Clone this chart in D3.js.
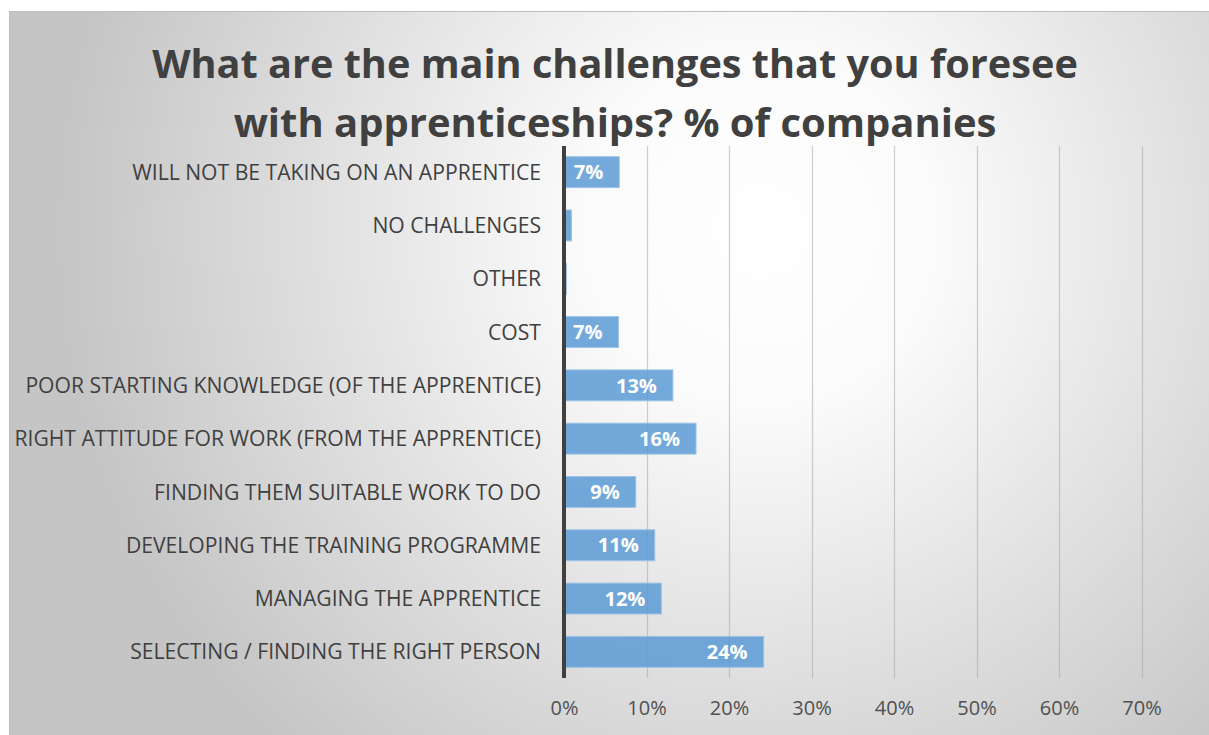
<!DOCTYPE html>
<html>
<head>
<meta charset="utf-8">
<script src="https://cdn.jsdelivr.net/npm/d3@7"></script>
<style>
  html, body { margin: 0; padding: 0; background: #ffffff; }
  svg { display: block; }
</style>
</head>
<body>
<svg id="chart" width="1209" height="735"></svg>
<script>
// Survey answers, listed top to bottom as they appear on the chart
const categories = [
  "WILL NOT BE TAKING ON AN APPRENTICE",
  "NO CHALLENGES",
  "OTHER",
  "COST",
  "POOR STARTING KNOWLEDGE (OF THE APPRENTICE)",
  "RIGHT ATTITUDE FOR WORK (FROM THE APPRENTICE)",
  "FINDING THEM SUITABLE WORK TO DO",
  "DEVELOPING THE TRAINING PROGRAMME",
  "MANAGING THE APPRENTICE",
  "SELECTING / FINDING THE RIGHT PERSON"
];
// Share of companies (%)
const values = [6.7, 0.9, 0.3, 6.6, 13.2, 16.0, 8.7, 11.0, 11.8, 24.2];
// Only these bars carry a data label
const showLabel = [true, false, false, true, true, true, true, true, true, true];
const xTicks = [0, 10, 20, 30, 40, 50, 60, 70];
const titleLines = [
  "What are the main challenges that you foresee",
  "with apprenticeships? % of companies"
];

const rows = categories.map((c, i) => ({ cat: c, value: values[i], label: showLabel[i] }));

const svg = d3.select("#chart");

// Chart area background: soft radial gradient
const defs = svg.append("defs");
const grad = defs.append("radialGradient")
  .attr("id", "bg")
  .attr("gradientUnits", "userSpaceOnUse")
  .attr("cx", 760).attr("cy", 230).attr("r", 700)
  .attr("fx", 760).attr("fy", 230);
grad.append("stop").attr("offset", "0%").attr("stop-color", "#ffffff");
grad.append("stop").attr("offset", "25%").attr("stop-color", "#fbfbfb");
grad.append("stop").attr("offset", "100%").attr("stop-color", "#c5c5c5");

svg.append("rect")
  .attr("x", 9.5).attr("y", 11.5)
  .attr("width", 1200).attr("height", 730)
  .attr("fill", "url(#bg)")
  .attr("stroke", "#bdbdbd").attr("stroke-width", 1);

const font = "'Open Sans', 'Noto Sans', sans-serif";

// Plot geometry
const x = d3.scaleLinear().domain([0, 70]).range([564, 1141.5]);
const y = d3.scaleBand().domain(categories).range([145.5, 678.5])
  .paddingInner(0.42).paddingOuter(0.21);

// Vertical gridlines
svg.append("g").selectAll("line").data(xTicks.filter(d => d > 0)).join("line")
  .attr("x1", d => Math.round(x(d)) + 0.5)
  .attr("x2", d => Math.round(x(d)) + 0.5)
  .attr("y1", 146).attr("y2", 678)
  .attr("stroke", "#a6a6a6").attr("stroke-opacity", 0.55).attr("stroke-width", 1.2);

// Bars
svg.append("g").selectAll("rect").data(rows).join("rect")
  .attr("x", x(0) + 1)
  .attr("y", d => y(d.cat))
  .attr("width", d => Math.max(0, x(d.value) - x(0) - 1))
  .attr("height", y.bandwidth())
  .attr("fill", "#5b9bd5").attr("fill-opacity", 0.85)
  .attr("stroke", "#9dc3e6").attr("stroke-width", 1);

// Data labels inside bar ends
svg.append("g").selectAll("text").data(rows.filter(d => d.label)).join("text")
  .attr("x", d => x(d.value) - 16)
  .attr("y", d => y(d.cat) + y.bandwidth() / 2)
  .attr("dy", "0.36em")
  .attr("text-anchor", "end")
  .attr("font-family", font).attr("font-weight", 700)
  .attr("font-size", 20).attr("fill", "#ffffff")
  .text(d => d3.format(".0f")(d.value) + "%");

// Category axis (vertical baseline at 0%)
svg.append("line")
  .attr("x1", x(0)).attr("x2", x(0))
  .attr("y1", 146).attr("y2", 678)
  .attr("stroke", "#404040").attr("stroke-width", 4);

const catLabels = svg.append("g").selectAll("text").data(categories).join("text")
  .attr("x", 541)
  .attr("y", d => y(d) + y.bandwidth() / 2)
  .attr("dy", "0.36em")
  .attr("text-anchor", "end")
  .attr("font-family", font).attr("font-size", 19)
  .attr("fill", "#404040")
  .text(d => d);

// Value axis tick labels
const xAxis = d3.axisBottom(x).tickValues(xTicks)
  .tickFormat(d => d + "%").tickSize(0).tickPadding(0);
const gx = svg.append("g").attr("transform", "translate(0,701)").call(xAxis);
gx.select(".domain").remove();
gx.selectAll("text")
  .attr("font-family", font).attr("font-size", 20)
  .attr("fill", "#505050").attr("dy", "0.71em");

// Title
const tl = svg.append("g").selectAll("text").data(titleLines).join("text")
  .attr("x", 615)
  .attr("y", (d, i) => 78 + i * 59)
  .attr("text-anchor", "middle")
  .attr("font-family", font).attr("font-weight", 700)
  .attr("font-size", 42).attr("fill", "#404040")
  .text(d => d);

// Size text so its width fills the available room
const fitWidth = (sel, target) => {
  const w = sel.node().getComputedTextLength();
  const fs = parseFloat(sel.attr("font-size"));
  sel.attr("font-size", fs * target / w);
};
fitWidth(tl.filter((d, i) => i === 0), 926);
fitWidth(tl.filter((d, i) => i === 1), 763);

const longest = catLabels.filter((d, i) => i === 5);
const base = parseFloat(longest.attr("font-size"));
const scale = 527 / longest.node().getComputedTextLength();
catLabels.attr("font-size", base * scale);
</script>
</body>
</html>
